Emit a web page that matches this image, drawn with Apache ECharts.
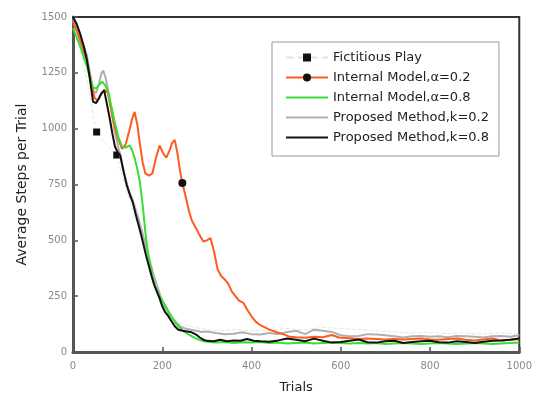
<!DOCTYPE html>
<html>
<head>
<meta charset="utf-8">
<script src="https://cdn.jsdelivr.net/npm/echarts@6/dist/echarts.min.js"></script>
<style>
  html, body { margin: 0; padding: 0; background: #fff; }
  #chart { width: 535px; height: 400px; }
</style>
</head>
<body>
<div id="chart"></div>
<script>
// 数据
var xTicks = [0, 200, 400, 600, 800, 1000];
var yTicks = [0, 250, 500, 750, 1000, 1250, 1500];

var fictitious = [[0,1480],[10,1400],[20,1320],[30,1230],[40,1120],[47,1040],[53,985],[60,960],[70,940],[80,920],[90,895],[98,882],[106,820],[114,760],[122,710],[130,660],[140,600],[150,540],[160,470],[170,400],[180,340],[190,280],[200,230],[212,190],[224,160],[240,130],[260,115],[280,108],[300,100],[330,95],[360,100],[400,95],[440,100],[480,105],[520,100],[560,110],[600,105],[640,100],[680,95],[720,90],[760,85],[800,88],[840,82],[880,85],[920,80],[960,85],[1000,80]];
var fictitiousMarks = [53, 98];

var internal02 = [[0,1480],[10,1430],[20,1370],[30,1310],[40,1220],[48,1140],[54,1125],[62,1150],[70,1175],[78,1160],[86,1080],[94,1000],[102,950],[110,910],[118,930],[126,990],[132,1040],[138,1075],[144,1020],[150,930],[156,850],[162,800],[170,790],[178,800],[186,870],[194,925],[202,890],[209,870],[216,900],[222,935],[228,950],[234,890],[240,810],[245,757],[252,700],[260,630],[266,590],[274,560],[282,530],[292,495],[300,500],[308,510],[316,450],[324,370],[332,340],[340,325],[348,305],[356,270],[364,250],[372,230],[382,220],[390,190],[400,160],[410,135],[420,120],[430,110],[440,100],[452,92],[462,85],[474,78],[486,68],[500,66],[520,64],[540,68],[560,66],[580,76],[596,65],[620,62],[640,58],[660,60],[680,58],[700,56],[720,58],[740,56],[760,58],[780,60],[800,56],[820,55],[840,58],[860,60],[880,55],[900,52],[920,56],[940,60],[960,52],[980,55],[1000,58]];
var internal02Marks = [245];

var internal08 = [[0,1450],[8,1410],[16,1370],[24,1320],[31,1280],[38,1230],[45,1185],[52,1180],[58,1195],[65,1210],[72,1195],[78,1170],[86,1100],[94,1025],[102,960],[110,920],[118,915],[127,925],[133,900],[138,870],[144,820],[150,760],[156,660],[162,540],[166,470],[172,400],[178,336],[184,295],[190,265],[200,230],[209,200],[220,160],[230,130],[238,112],[250,90],[262,75],[274,62],[283,54],[300,46],[320,42],[340,45],[360,40],[380,44],[400,42],[420,45],[440,40],[460,42],[480,38],[500,40],[520,42],[540,38],[560,40],[580,42],[600,40],[620,38],[640,40],[660,38],[680,40],[700,36],[720,38],[740,40],[760,38],[780,36],[800,38],[820,40],[840,38],[860,36],[880,38],[900,40],[920,38],[940,36],[960,38],[980,40],[1000,42]];

var proposed02 = [[0,1490],[8,1460],[16,1420],[24,1370],[31,1330],[38,1250],[45,1170],[52,1160],[58,1200],[64,1250],[68,1260],[74,1220],[80,1160],[88,1060],[94,980],[100,930],[108,860],[116,790],[124,730],[132,690],[140,640],[148,590],[156,530],[164,470],[172,410],[180,350],[188,300],[196,250],[204,210],[212,180],[220,160],[230,135],[240,115],[252,105],[264,100],[276,95],[288,90],[300,92],[320,85],[340,80],[360,82],[380,88],[400,80],[420,78],[440,85],[460,80],[480,90],[500,95],[520,80],[540,100],[560,95],[580,90],[600,75],[620,70],[640,72],[660,80],[680,78],[700,75],[720,70],[740,65],[760,70],[780,72],[800,68],[820,70],[840,66],[860,72],[880,70],[900,68],[920,65],[940,70],[960,72],[980,68],[1000,75]];

var proposed08 = [[0,1500],[8,1470],[16,1425],[24,1370],[31,1310],[38,1220],[45,1120],[52,1115],[58,1135],[64,1160],[70,1170],[76,1110],[82,1050],[88,980],[94,920],[100,895],[106,880],[112,820],[120,750],[128,700],[134,670],[140,620],[146,575],[152,530],[158,480],[164,430],[170,385],[176,340],[182,300],[188,270],[194,240],[200,205],[206,180],[212,165],[220,140],[228,115],[236,100],[246,95],[256,92],[266,88],[276,78],[284,65],[292,55],[300,50],[315,48],[330,55],[345,48],[360,52],[375,50],[390,58],[405,50],[420,48],[440,46],[460,52],[480,60],[500,55],[520,48],[540,60],[560,50],[580,42],[600,45],[620,50],[640,56],[660,44],[680,42],[700,48],[720,50],[740,40],[760,45],[780,48],[800,50],[820,44],[840,42],[860,48],[880,45],[900,40],[920,46],[940,50],[960,52],[980,55],[1000,60]];

// 只在指定的点上画标记
function markAt(data, xs) {
  return data.map(function (p) {
    if (xs.indexOf(p[0]) >= 0) return { value: p };
    return { value: p, symbol: "none" };
  });
}

(function () {
  var myChart = echarts.init(document.getElementById("chart"));
  var font = "DejaVu Sans, sans-serif";
  // 图例里不画标记的项
  var noMark = { opacity: 0 };

  var option = {
    animation: false,
    grid: {
      left: 73,
      right: 13,
      top: 17,
      bottom: 48,
      show: true,
      borderColor: "#333",
      borderWidth: 2
    },
    legend: {
      orient: "vertical",
      left: 272,
      top: 42,
      padding: [8, 10, 11, 13],
      itemWidth: 42,
      itemHeight: 10,
      itemGap: 5,
      backgroundColor: "#fff",
      borderColor: "#999",
      borderWidth: 1,
      textStyle: { color: "#222", fontSize: 13, lineHeight: 15, fontFamily: font },
      data: [
        { name: "Fictitious Play" },
        { name: "Internal Model,α=0.2" },
        { name: "Internal Model,α=0.8", itemStyle: noMark },
        { name: "Proposed Method,k=0.2", itemStyle: noMark },
        { name: "Proposed Method,k=0.8", itemStyle: noMark }
      ]
    },
    xAxis: {
      type: "value",
      min: 0,
      max: 1000,
      interval: 200,
      name: "Trials",
      nameLocation: "middle",
      nameGap: 29,
      nameTextStyle: { color: "#222", fontSize: 13, fontFamily: font },
      axisLine: { lineStyle: { color: "#555", width: 3 } },
      axisTick: { inside: true, length: 5, lineStyle: { color: "#555", width: 1.5 } },
      axisLabel: { color: "#888", fontSize: 10, fontFamily: font, margin: 9, formatter: function (v) { return String(v); } },
      splitLine: { show: false }
    },
    yAxis: {
      type: "value",
      min: 0,
      max: 1500,
      interval: 250,
      name: "Average Steps per Trial",
      nameLocation: "middle",
      nameGap: 44,
      nameRotate: 90,
      nameTextStyle: { color: "#222", fontSize: 14, fontFamily: font },
      axisLine: { lineStyle: { color: "#555", width: 3 } },
      axisTick: { inside: true, length: 5, lineStyle: { color: "#555", width: 1.5 } },
      axisLabel: { color: "#888", fontSize: 10, fontFamily: font, margin: 6, formatter: function (v) { return String(v); } },
      splitLine: { show: false }
    },
    series: [
      {
        name: "Fictitious Play",
        type: "line",
        symbol: "rect",
        symbolSize: 7,
        showAllSymbol: true,
        itemStyle: { color: "#111" },
        lineStyle: { color: "#e4e4e4", width: 1, type: "dashed" },
        data: markAt(fictitious, fictitiousMarks),
        z: 1
      },
      {
        name: "Proposed Method,k=0.2",
        type: "line",
        symbol: "none",
        itemStyle: { color: "#b0b0b0" },
        lineStyle: { color: "#b0b0b0", width: 2 },
        data: proposed02,
        z: 2
      },
      {
        name: "Internal Model,α=0.2",
        type: "line",
        symbol: "circle",
        symbolSize: 8,
        showAllSymbol: true,
        itemStyle: { color: "#111" },
        lineStyle: { color: "#ff5a1f", width: 2 },
        data: markAt(internal02, internal02Marks),
        z: 3
      },
      {
        name: "Internal Model,α=0.8",
        type: "line",
        symbol: "none",
        itemStyle: { color: "#33e033" },
        lineStyle: { color: "#33e033", width: 2 },
        data: internal08,
        z: 4
      },
      {
        name: "Proposed Method,k=0.8",
        type: "line",
        symbol: "none",
        itemStyle: { color: "#111" },
        lineStyle: { color: "#111", width: 2 },
        data: proposed08,
        z: 5
      }
    ]
  };

  myChart.setOption(option);
  window.addEventListener("resize", function () {
    myChart.resize();
  });
})();
</script>
</body>
</html>
